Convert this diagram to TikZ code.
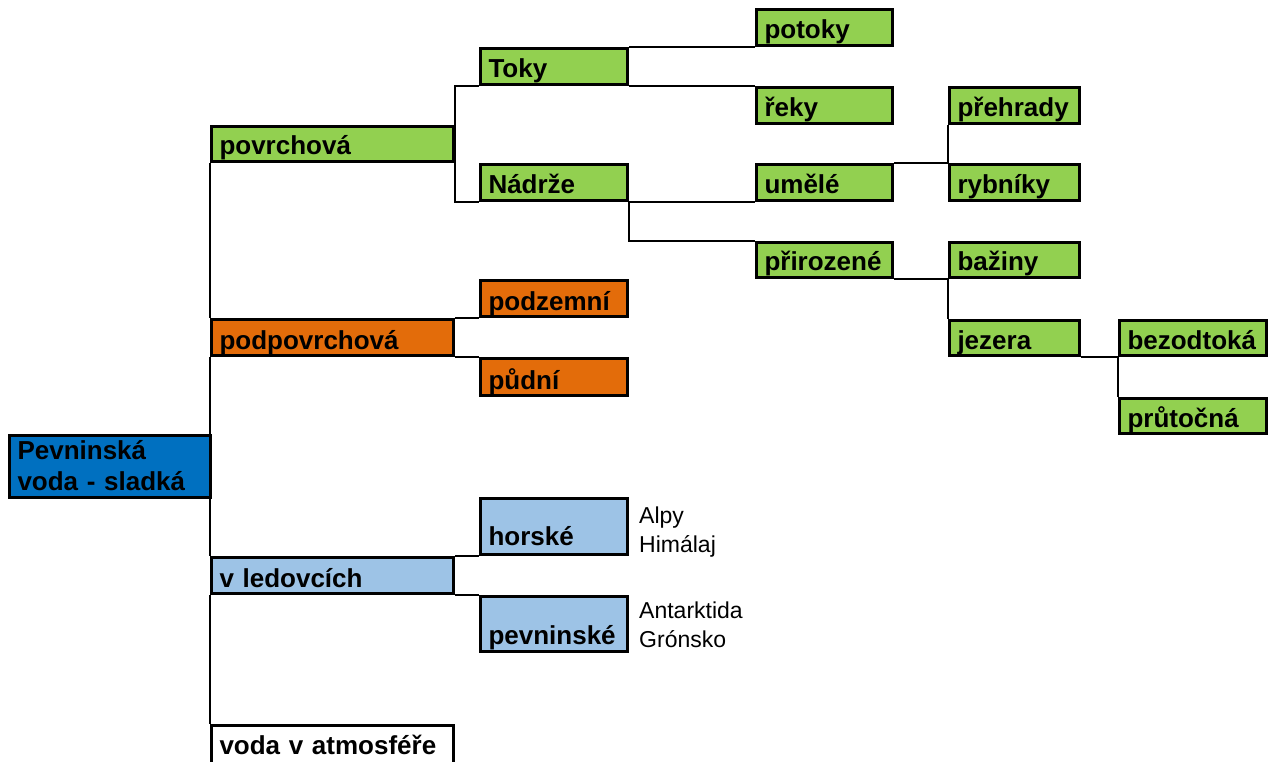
\documentclass[tikz,border=0pt]{standalone}
\usepackage{fontspec}
\setmainfont{Liberation Sans}
\definecolor{grn}{HTML}{92D050}
\definecolor{orng}{HTML}{E36C0A}
\definecolor{dblue}{HTML}{0070C0}
\definecolor{lblue}{HTML}{9DC3E6}
\newcommand\boxfont{\bfseries\fontsize{26}{31}\selectfont}
\newcommand\sidefont{\fontsize{23}{29}\selectfont}
\tikzset{
  bx/.style={draw=black, line width=3pt, inner xsep=8pt, inner ysep=0pt,
    anchor=north west, align=left, font=\boxfont},
  std/.style={text height=#1-9.5pt, text depth=6.5pt},
  wA/.style={text width=226pt},
  wB/.style={text width=131pt},
  wC/.style={text width=120pt},
  wD/.style={text width=114pt},
  conn/.style={draw=black, line width=2pt},
  side/.style={anchor=base west, inner sep=0pt, text width=140pt, align=left, font=\sidefont}
}
\begin{document}
\begin{tikzpicture}[x=1pt,y=-1pt]
\useasboundingbox (0,0) rectangle (1270,762);
\clip (0,0) rectangle (1270,762);
% level 0
\node[bx, fill=dblue, text width=185pt, text height=23.5pt, text depth=38.5pt] (root) at (8,434) {Pevninská\\voda - sladká};
% level 1
\node[bx, fill=grn, wA, text height=28.5pt, text depth=6.5pt] (povr) at (210,125) {povrchová};
\node[bx, fill=orng, wA, text height=29.5pt, text depth=6.5pt] (podp) at (210,318) {podpovrchová};
\node[bx, fill=lblue, wA, text height=29.5pt, text depth=6.5pt] (ledov) at (210,556) {v ledovcích};
\node[bx, fill=white, wA, text height=28.5pt, text depth=10pt] (atmo) at (210,724) {voda v atmosféře};
% level 2
\node[bx, fill=grn, wB, text height=29.5pt, text depth=6.5pt] (toky) at (479,47) {Toky};
\node[bx, fill=grn, wB, text height=29.5pt, text depth=6.5pt] (nadrze) at (479,163) {Nádrže};
\node[bx, fill=orng, wB, text height=29.5pt, text depth=6.5pt] (podzem) at (479,279) {podzemní};
\node[bx, fill=orng, wB, text height=30.5pt, text depth=6.5pt] (pudni) at (479,357) {půdní};
\node[bx, fill=lblue, wB, text height=46.5pt, text depth=9.5pt] (horske) at (479,497) {horské};
\node[bx, fill=lblue, wB, text height=47.5pt, text depth=7.5pt] (pevn) at (479,595) {pevninské};
% level 3
\node[bx, fill=grn, wC, text height=29.5pt, text depth=6.5pt] (potoky) at (755,8) {potoky};
\node[bx, fill=grn, wC, text height=29.5pt, text depth=6.5pt] (reky) at (755,86) {řeky};
\node[bx, fill=grn, wC, text height=29.5pt, text depth=6.5pt] (umele) at (755,163) {umělé};
\node[bx, fill=grn, wC, text height=28.5pt, text depth=6.5pt] (prir) at (755,241) {přirozené};
% level 4
\node[bx, fill=grn, wD, text height=29.5pt, text depth=6.5pt] (prehr) at (948,86) {přehrady};
\node[bx, fill=grn, wD, text height=29.5pt, text depth=6.5pt] (rybn) at (948,163) {rybníky};
\node[bx, fill=grn, wD, text height=28.5pt, text depth=6.5pt] (baziny) at (948,241) {bažiny};
\node[bx, fill=grn, wD, text height=28.5pt, text depth=6.5pt] (jezera) at (948,319) {jezera};
% level 5
\node[bx, fill=grn, wB, text height=28.5pt, text depth=6.5pt] (bezod) at (1118,319) {bezodtoká};
\node[bx, fill=grn, wB, text height=28.5pt, text depth=6.5pt] (prut) at (1118,397) {průtočná};
% side texts
\node[side] (alpy) at (639,523) {Alpy\\Himálaj};
\node[side] (antar) at (639,618) {Antarktida\\Grónsko};
% connectors
\path[conn] (povr.south west) -- (podp.north west)
            (podp.south west) -- (ledov.north west)
            (ledov.south west) -- (atmo.north west);
\path[conn] (toky.south west) -- (toky.south west -| povr.east)
            -- (nadrze.south west -| povr.east) -- (nadrze.south west);
\path[conn] (toky.north east) -- (potoky.south west);
\path[conn] (toky.south east) -- (reky.north west);
\path[conn] (nadrze.south east) -- (umele.south west);
\path[conn] (nadrze.south east) |- (prir.north west);
\path[conn] (umele.north east) -- (rybn.north west) -- (prehr.south west);
\path[conn] (prir.south east) -- (baziny.south west) -- (jezera.north west);
\path[conn] (jezera.south east) -- (bezod.south west) -- (prut.north west);
\path[conn] (podp.north east) -- (podzem.south west);
\path[conn] (podp.south east) -- (pudni.north west);
\path[conn] (ledov.north east) -- (horske.south west);
\path[conn] (ledov.south east) -- (pevn.north west);
\end{tikzpicture}
\end{document}
